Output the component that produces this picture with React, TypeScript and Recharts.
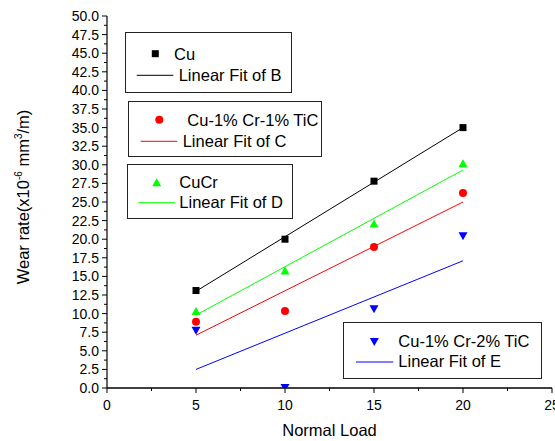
import React from "react";
import { ScatterChart, Scatter, XAxis, YAxis } from "recharts";

// normal load (x) for the measured points
const loads = [5, 10, 15, 20];
// wear rate, x10^-6 mm3/m
const cuRate = [13.1, 20.0, 27.8, 35.0];
const cuCr1TiCRate = [8.9, 10.35, 18.95, 26.2];
const cuCrRate = [10.35, 15.8, 22.1, 30.2];
const cuCr2TiCRate = [7.7, 0.0, 10.6, 20.4];

// linear fit end points
const fitLoads = [5, 20];
const cuFit = [13.0, 35.0];
const cuCr1TiCFit = [7.1, 25.0];
const cuCrFit = [9.8, 29.3];
const cuCr2TiCFit = [2.5, 17.1];

const xTickLabels = [0, 5, 10, 15, 20, 25];
const yTickLabels = [
  0, 2.5, 5, 7.5, 10, 12.5, 15, 17.5, 20, 22.5, 25, 27.5, 30, 32.5, 35, 37.5,
  40, 42.5, 45, 47.5, 50,
];
const seriesNames = ["Cu", "Cu-1% Cr-1% TiC", "CuCr", "Cu-1% Cr-2% TiC"];
const fitNames = ["Linear Fit of B", "Linear Fit of C", "Linear Fit of D", "Linear Fit of E"];

const FONT = "'Liberation Sans', Arial, sans-serif";
const TICK_SIZE = 5;
const TICK_MARGIN = 3;

const BLACK = "#000000";
const RED = "#ff0000";
const GREEN = "#00ff00";
const BLUE = "#0000ff";

const toPoints = (xs: number[], ys: number[]) => xs.map((x, i) => ({ x, y: ys[i] }));

// add a minor tick half way between labelled ticks
const withMinor = (major: number[]) =>
  major.flatMap((v, i) => (i < major.length - 1 ? [v, (v + major[i + 1]) / 2] : [v]));

const xTicks = withMinor(xTickLabels);
const yTicks = withMinor(yTickLabels);

type MarkProps = { cx: number; cy: number; fill: string };

const Square = ({ cx, cy, fill }: MarkProps) => (
  <rect x={cx - 3.5} y={cy - 3.5} width={7} height={7} fill={fill} />
);
const Dot = ({ cx, cy, fill }: MarkProps) => <circle cx={cx} cy={cy} r={4} fill={fill} />;
const TriUp = ({ cx, cy, fill }: MarkProps) => (
  <polygon points={`${cx - 4.5},${cy + 4} ${cx + 4.5},${cy + 4} ${cx},${cy - 4}`} fill={fill} />
);
const TriDown = ({ cx, cy, fill }: MarkProps) => (
  <polygon points={`${cx - 4.5},${cy - 4} ${cx + 4.5},${cy - 4} ${cx},${cy + 4}`} fill={fill} />
);

const isMultiple = (v: number, step: number) => Math.abs(v / step - Math.round(v / step)) < 1e-6;

const LeftTick = (props: any) => {
  const { x, y, payload } = props;
  const v = payload.value as number;
  const major = isMultiple(v, 2.5);
  const ax = x + TICK_SIZE + TICK_MARGIN;
  return (
    <g>
      <line x1={ax} x2={ax - (major ? 5 : 3)} y1={y} y2={y} stroke={BLACK} strokeWidth={1} />
      {major && (
        <text x={x} y={y + 5} textAnchor="end" fontSize={14} fontFamily={FONT} fill={BLACK}>
          {v.toFixed(1)}
        </text>
      )}
    </g>
  );
};

const BottomTick = (props: any) => {
  const { x, y, payload } = props;
  const v = payload.value as number;
  const major = isMultiple(v, 5);
  const ay = y - TICK_SIZE - TICK_MARGIN;
  return (
    <g>
      <line x1={x} x2={x} y1={ay} y2={ay + (major ? 5 : 3)} stroke={BLACK} strokeWidth={1} />
      {major && (
        <text x={x} y={y + 14} textAnchor="middle" fontSize={14} fontFamily={FONT} fill={BLACK}>
          {v}
        </text>
      )}
    </g>
  );
};

const NoTick = () => <g />;

const XTitle = () => (
  <text x={329.5} y={436} textAnchor="middle" fontSize={16.5} fontFamily={FONT} fill={BLACK}>
    Normal Load
  </text>
);

const YTitle = () => (
  <text
    transform="rotate(-90)"
    x={-197}
    y={29}
    textAnchor="middle"
    fontSize={16.5}
    fontFamily={FONT}
    fill={BLACK}
  >
    Wear rate(x10
    <tspan dy={-7} fontSize={10}>-6</tspan>
    <tspan dy={7}> mm</tspan>
    <tspan dy={-7} fontSize={10}>3</tspan>
    <tspan dy={7}>/m)</tspan>
  </text>
);

const legendBoxes = [
  { x: 125.5, y: 32.5, w: 166, h: 60, mark: Square, color: BLACK, mx: 155.3, my: 53.7, tx1: 174, ty1: 60, lx1: 136.7, lx2: 173.3, ly: 75.3, tx2: 178.7, ty2: 81 },
  { x: 128.5, y: 101.5, w: 193, h: 55, mark: Dot, color: RED, mx: 159.3, my: 119.7, tx1: 187.3, ty1: 126, lx1: 140.7, lx2: 177.3, ly: 141.3, tx2: 182.7, ty2: 146.7 },
  { x: 127.5, y: 164.5, w: 165, h: 54, mark: TriUp, color: GREEN, mx: 156.7, my: 182.3, tx1: 179.3, ty1: 187.7, lx1: 138.3, lx2: 175, ly: 202.7, tx2: 179.3, ty2: 208.3 },
  { x: 343.5, y: 322.5, w: 198, h: 56, mark: TriDown, color: BLUE, mx: 374.3, my: 342, tx1: 398.3, ty1: 346.7, lx1: 356, lx2: 393.3, ly: 362, tx2: 398.3, ty2: 367.3 },
];

const Legends = () => (
  <svg
    width={555}
    height={441}
    style={{ position: "absolute", left: 0, top: 0, pointerEvents: "none" }}
  >
    {legendBoxes.map((b, i) => {
      const Mark = b.mark;
      return (
        <g key={i} fontFamily={FONT} fontSize={16.5} fill={BLACK}>
          <rect x={b.x} y={b.y} width={b.w} height={b.h} fill="#fff" stroke="#222" strokeWidth={1} />
          <Mark cx={b.mx} cy={b.my} fill={b.color} />
          <text x={b.tx1} y={b.ty1}>{seriesNames[i]}</text>
          <line x1={b.lx1} x2={b.lx2} y1={b.ly} y2={b.ly} stroke={b.color} strokeWidth={1} />
          <text x={b.tx2} y={b.ty2}>{fitNames[i]}</text>
        </g>
      );
    })}
  </svg>
);

const series = [
  { rate: cuRate, fit: cuFit, color: BLACK, mark: Square },
  { rate: cuCr1TiCRate, fit: cuCr1TiCFit, color: RED, mark: Dot },
  { rate: cuCrRate, fit: cuCrFit, color: GREEN, mark: TriUp },
  { rate: cuCr2TiCRate, fit: cuCr2TiCFit, color: BLUE, mark: TriDown },
];

export default function App() {
  return (
    <div style={{ position: "absolute", left: 0, top: 0, width: 555, height: 441, background: "#fff" }}>
      <ScatterChart width={555} height={441} margin={{ top: 16, right: 3, bottom: 0, left: 0 }}>
        <XAxis
          xAxisId="x"
          dataKey="x"
          type="number"
          domain={[0, 25]}
          ticks={xTicks}
          interval={0}
          height={53}
          tickSize={TICK_SIZE}
          tickMargin={TICK_MARGIN}
          tickLine={false}
          tick={<BottomTick />}
          axisLine={{ stroke: BLACK, strokeWidth: 1.4 }}
          label={<XTitle />}
        />
        <XAxis
          xAxisId="top"
          orientation="top"
          type="number"
          domain={[0, 25]}
          ticks={xTicks}
          interval={0}
          height={0}
          mirror
          tickSize={3}
          tick={<NoTick />}
          tickLine={{ stroke: BLACK }}
          axisLine={{ stroke: BLACK, strokeWidth: 1.4 }}
        />
        <YAxis
          yAxisId="y"
          dataKey="y"
          type="number"
          domain={[0, 50]}
          allowDataOverflow
          ticks={yTicks}
          interval={0}
          width={107}
          tickSize={TICK_SIZE}
          tickMargin={TICK_MARGIN}
          tickLine={false}
          tick={<LeftTick />}
          axisLine={{ stroke: BLACK, strokeWidth: 1.2 }}
          label={<YTitle />}
        />
        <YAxis
          yAxisId="right"
          orientation="right"
          type="number"
          domain={[0, 50]}
          ticks={yTickLabels}
          interval={0}
          width={0}
          mirror
          tickSize={3}
          tick={<NoTick />}
          tickLine={{ stroke: BLACK }}
          axisLine={{ stroke: BLACK, strokeWidth: 1.4 }}
        />
        {series.map((s, i) => (
          <Scatter
            key={`fit-${i}`}
            xAxisId="x"
            yAxisId="y"
            data={toPoints(fitLoads, s.fit)}
            line={{ stroke: s.color, strokeWidth: 1 }}
            shape={() => <g />}
            isAnimationActive={false}
          />
        ))}
        {series.map((s, i) => {
          const Mark = s.mark;
          return (
            <Scatter
              key={`pts-${i}`}
              xAxisId="x"
              yAxisId="y"
              data={toPoints(loads, s.rate)}
              shape={(p: any) => <Mark cx={p.cx} cy={p.cy} fill={s.color} />}
              isAnimationActive={false}
            />
          );
        })}
      </ScatterChart>
      <Legends />
    </div>
  );
}
